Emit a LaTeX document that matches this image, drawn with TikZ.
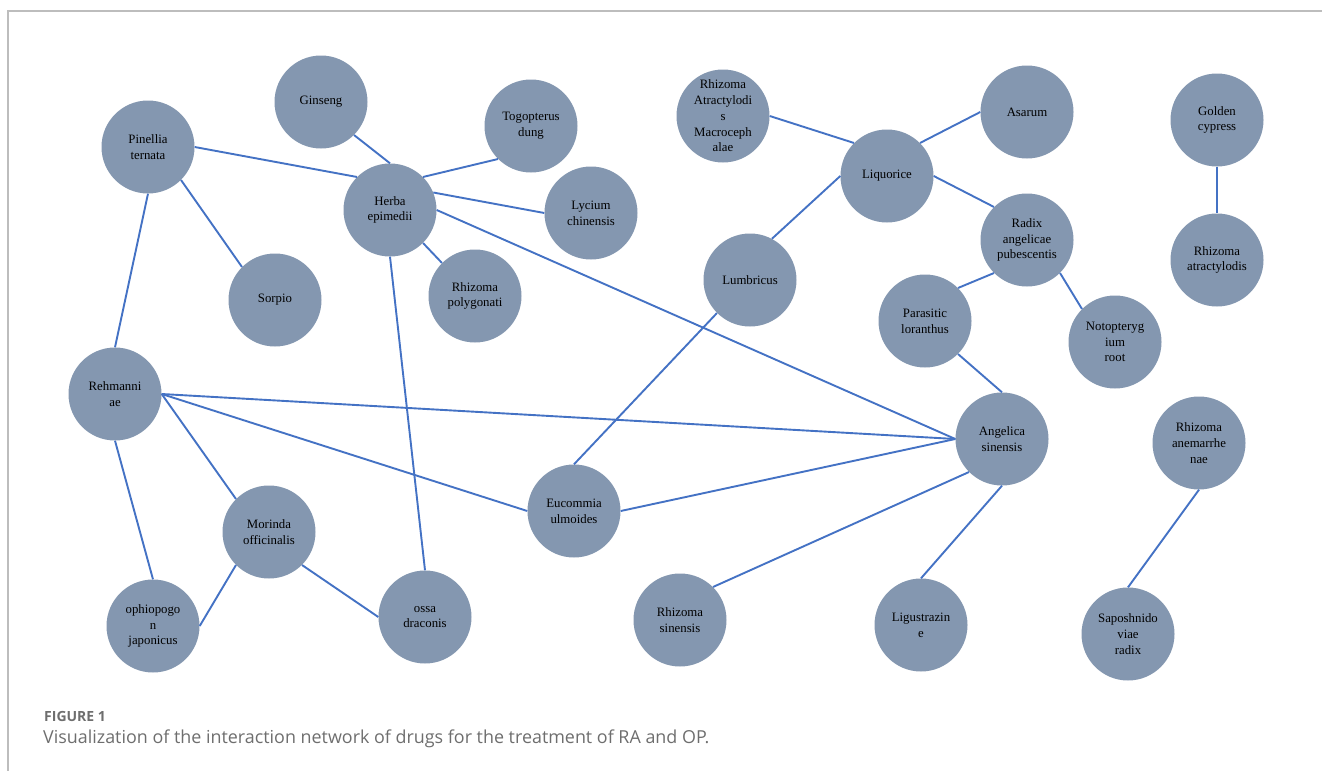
\documentclass[tikz,border=0pt]{standalone}
\usepackage{fontspec}
\setmainfont{Liberation Serif}
\newfontfamily\capfont{Open Sans}
\definecolor{nodefill}{HTML}{8497B0}
\definecolor{edgeblue}{HTML}{4472C4}
\definecolor{framegray}{HTML}{BDBDBD}
\definecolor{capgray}{HTML}{6E6E6E}
\tikzset{
  drug/.style={circle, fill=nodefill, draw=none, minimum size=93pt, inner sep=0pt,
    align=center, text=black, font=\fontsize{12.8}{15.8}\selectfont},
  link/.style={draw=edgeblue, line width=1.9pt},
  framerule/.style={draw=framegray, line width=1.5pt},
  capfig/.style={anchor=base west, inner sep=0pt, text=capgray, font=\capfont\bfseries\fontsize{14}{16}\selectfont},
  captext/.style={anchor=base west, inner sep=0pt, text=capgray, font=\capfont\fontsize{17.9}{20}\selectfont}
}
\begin{document}
\begin{tikzpicture}[x=1pt, y=-1pt]
\useasboundingbox (0,0) rectangle (1322,771);
% frame
\coordinate (fTR) at (1322,11);
\coordinate (fTL) at (8,11);
\coordinate (fBL) at (8,771);
\draw[framerule] (fTR) -- (fTL) -- (fBL);
% nodes
\node[drug] (gin) at (321,102) {Ginseng};
\node[drug] (pin) at (148,147) {Pinellia\\ternata};
\node[drug] (tog) at (531,126) {Togopterus\\dung};
\node[drug] (herb) at (390,210) {Herba\\epimedii};
\node[drug] (lyc) at (591,213) {Lycium\\chinensis};
\node[drug] (sor) at (275,300) {Sorpio};
\node[drug] (pol) at (475,296) {Rhizoma\\polygonati};
\node[drug] (reh) at (115,394) {Rehmanni\\ae};
\node[drug] (ram) at (723,116) {Rhizoma\\Atractylodi\\s\\Macroceph\\alae};
\node[drug] (asa) at (1027,112) {Asarum};
\node[drug] (liq) at (887,176) {Liquorice};
\node[drug] (gol) at (1217,120) {Golden\\cypress};
\node[drug] (rad) at (1027,240) {Radix\\angelicae\\pubescentis};
\node[drug] (rat) at (1217,260) {Rhizoma\\atractylodis};
\node[drug] (lum) at (750,280) {Lumbricus};
\node[drug] (par) at (925,321) {Parasitic\\loranthus};
\node[drug] (not) at (1115,342) {Notopteryg\\ium\\root};
\node[drug] (mor) at (269,532) {Morinda\\officinalis};
\node[drug] (oph) at (153,626) {ophiopogo\\n\\japonicus};
\node[drug] (ossa) at (425,617) {ossa\\draconis};
\node[drug] (euc) at (574,511) {Eucommia\\ulmoides};
\node[drug] (ang) at (1002,439) {Angelica\\sinensis};
\node[drug] (ane) at (1199,443) {Rhizoma\\anemarrhe\\nae};
\node[drug] (rsi) at (680,620) {Rhizoma\\sinensis};
\node[drug] (lig) at (921,625) {Ligustrazin\\e};
\node[drug] (sap) at (1128,634) {Saposhnido\\viae\\radix};
% edges
\draw[link] (pin.0) -- (herb.135);
\draw[link] (pin.-45) -- (sor.135);
\draw[link] (pin.-90) -- (reh.90);
\draw[link] (gin.-45) -- (herb.90);
\draw[link] (tog.225) -- (herb.45);
\draw[link] (lyc.180) -- (herb.22);
\draw[link] (pol.135) -- (herb.-45);
\draw[link] (herb.-90) -- (ossa.90);
\draw[link] (herb.0) -- (ang.180);
\draw[link] (reh.0) -- (ang.180);
\draw[link] (reh.0) -- (euc.180);
\draw[link] (reh.0) -- (mor.135);
\draw[link] (reh.-90) -- (oph.90);
\draw[link] (mor.225) -- (oph.0);
\draw[link] (mor.-45) -- (ossa.180);
\draw[link] (euc.0) -- (ang.180);
\draw[link] (euc.90) -- (lum.225);
\draw[link] (lum.62) -- (liq.180);
\draw[link] (ram.0) -- (liq.135);
\draw[link] (asa.180) -- (liq.45);
\draw[link] (liq.0) -- (rad.135);
\draw[link] (rad.225) -- (par.45);
\draw[link] (rad.-45) -- (not.135);
\draw[link] (par.-45) -- (ang.90);
\draw[link] (ang.225) -- (rsi.45);
\draw[link] (ang.-90) -- (lig.90);
\draw[link] (gol.-90) -- (rat.90);
\draw[link] (ane.-90) -- (sap.90);
% caption
\node[capfig] (figlab) at (44,721) {FIGURE 1};
\node[captext] (figcap) at (43,743) {Visualization of the interaction network of drugs for the treatment of RA and OP.};
\end{tikzpicture}
\end{document}
